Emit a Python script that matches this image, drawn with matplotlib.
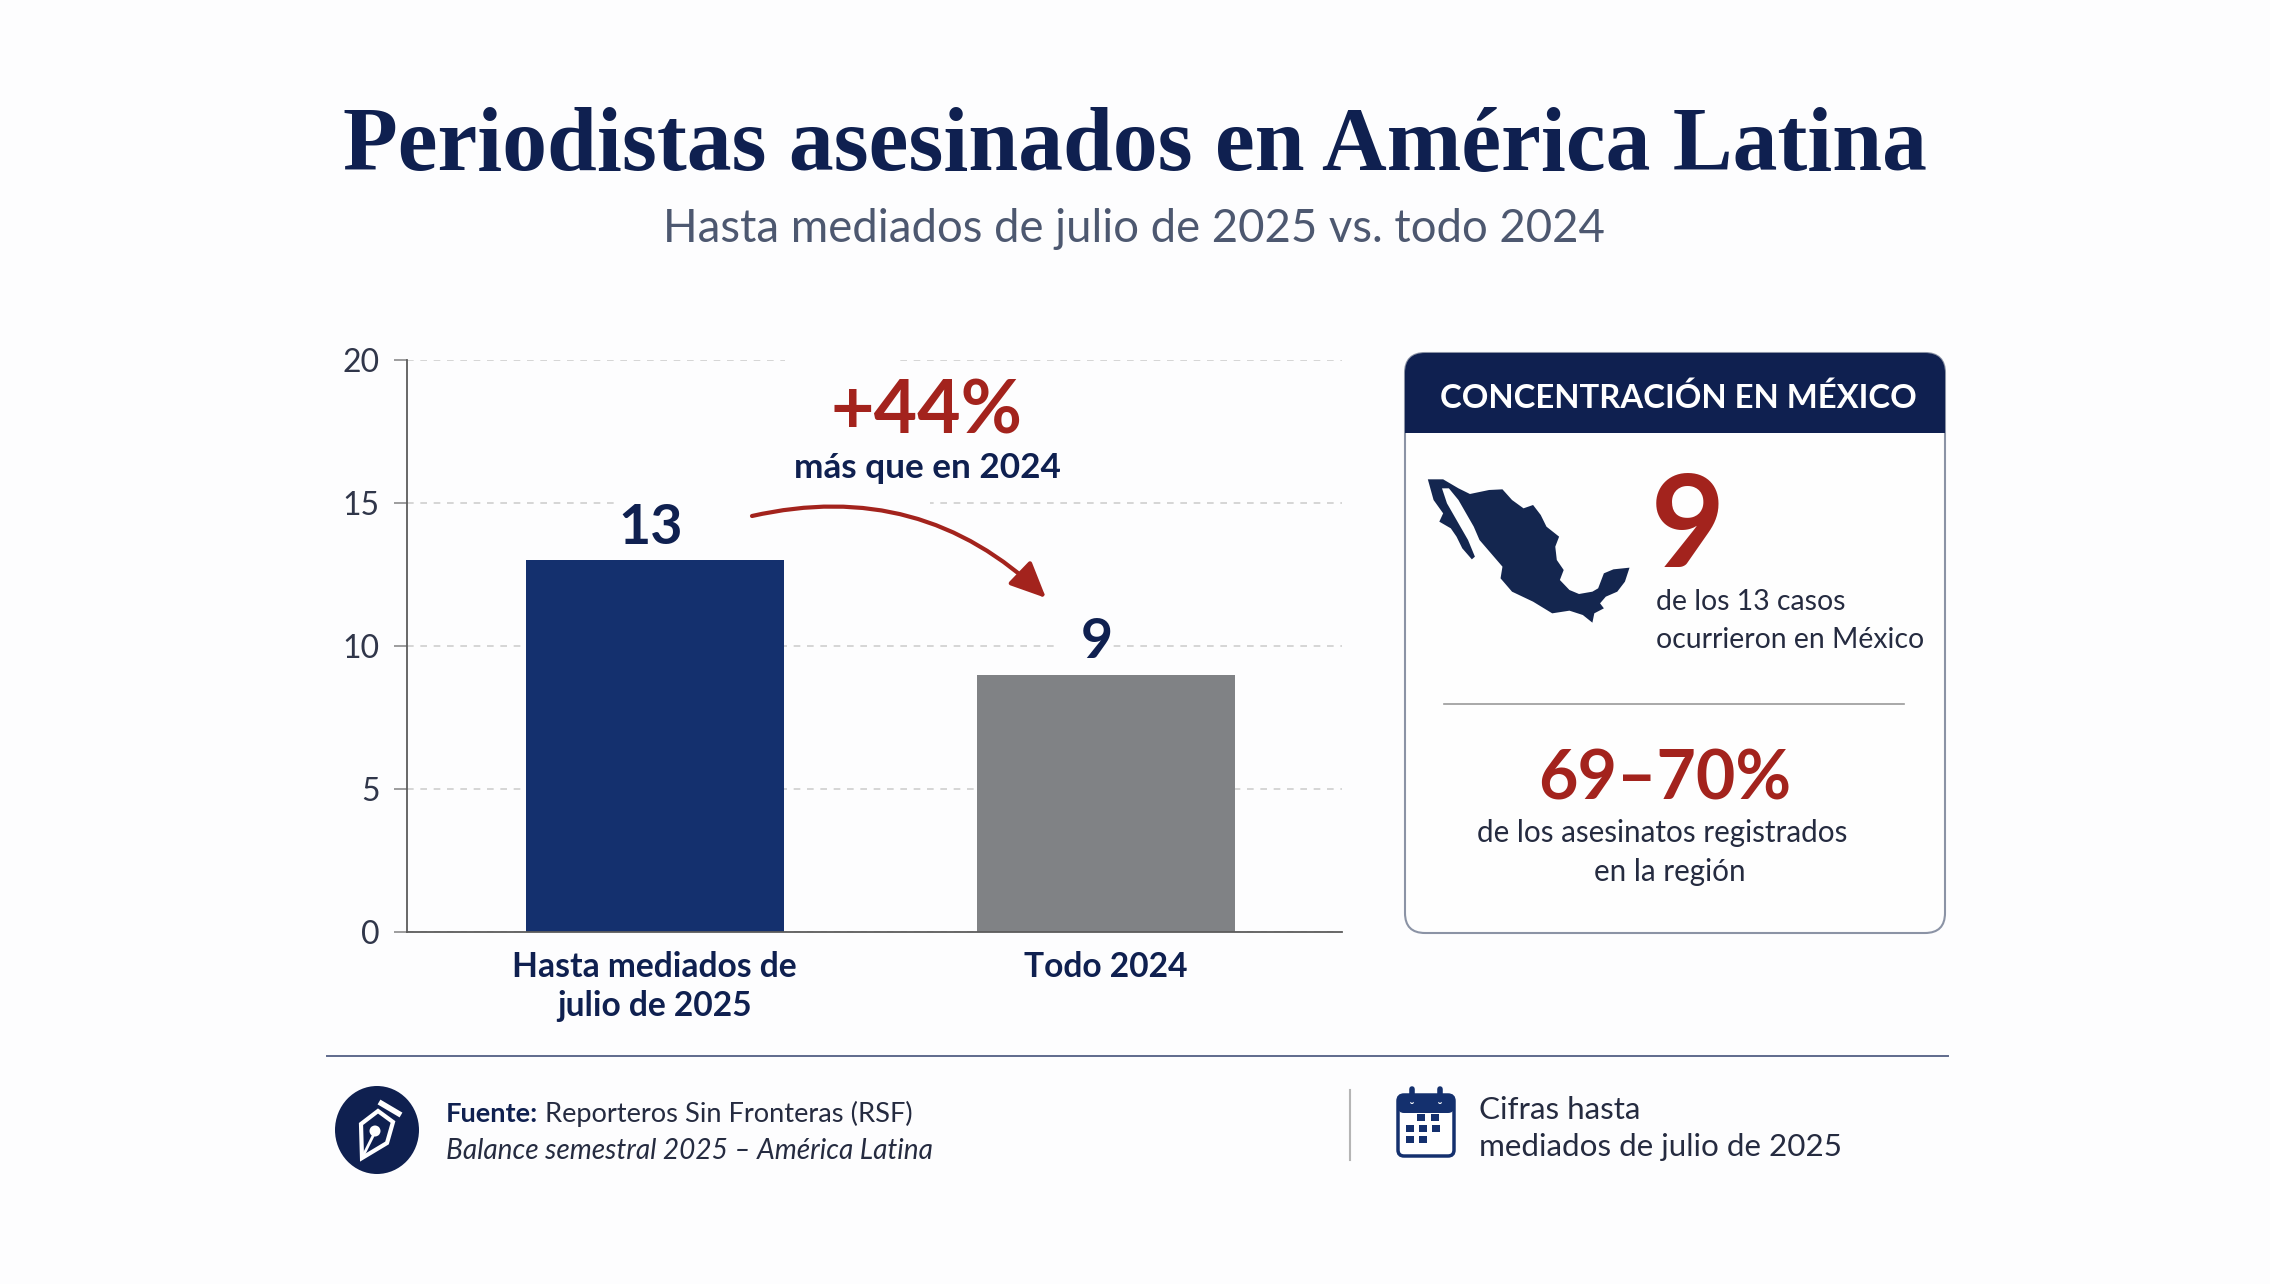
import matplotlib
matplotlib.use("Agg")
import matplotlib.pyplot as plt
from matplotlib.patches import Rectangle, FancyBboxPatch, Polygon, Ellipse, FancyArrowPatch

W, H = 2270, 1284

categorias = ["Hasta mediados de\njulio de 2025", "Todo 2024"]
valores = [13, 9]
etiquetas_valor = ["13", "9"]
ticks_y = [0, 5, 10, 15, 20]

NAVY = "#0f2050"
AZUL = "#14306e"
GRIS = "#808285"
ROJO = "#a3231d"
TEXTO = "#252b40"
SUB = "#4d5870"

fig = plt.figure(figsize=(W / 100, H / 100), dpi=100, facecolor="#fdfdfe")
plt.rcParams["font.family"] = ["Lato", "DejaVu Sans"]

# capa en pixeles para textos e iconos
pix = fig.add_axes([0, 0, 1, 1], zorder=2)
pix.set_xlim(0, W)
pix.set_ylim(H, 0)
pix.axis("off")
pix.patch.set_alpha(0)


def txt(x, y, s, size, color=TEXTO, weight="normal", ha="left", **kw):
    return pix.text(x, y, s, fontsize=size, color=color, fontweight=weight,
                    ha=ha, va="baseline", **kw)


txt(1135, 170, "Periodistas asesinados en América Latina", 64.5, NAVY, "bold", "center",
    family="Liberation Serif")
txt(1134, 242, "Hasta mediados de julio de 2025 vs. todo 2024", 32.8, SUB, "normal", "center")

# grafico de barras
x0, x1, ytop, ybot = 407, 1342, 360, 932
ax = fig.add_axes([x0 / W, 1 - ybot / H, (x1 - x0) / W, (ybot - ytop) / H], zorder=1)
ax.patch.set_alpha(0)
ax.set_xlim(-0.549, 1.524)
ax.set_ylim(0, 20)
ax.bar([0, 1], valores, width=0.572, color=[AZUL, GRIS], zorder=2)
ax.set_xticks([0, 1], categorias)
ax.set_yticks(ticks_y)
ax.tick_params(axis="x", length=0, pad=14, labelsize=24.2, labelcolor=NAVY)
ax.tick_params(axis="y", length=9.5, width=1.2, color="#8c8c8c", pad=10, labelsize=23, labelcolor="#30364a")
for lab in ax.get_xticklabels():
    lab.set_fontweight("bold")
    lab.set_linespacing(1.25)
ax.grid(axis="y", color="#cfcfcf", linestyle=(0, (4, 4)), linewidth=1.2, zorder=0.5)
ax.set_axisbelow(True)
for s in ["top", "right"]:
    ax.spines[s].set_visible(False)
ax.spines["left"].set_color("#5c5c5c")
ax.spines["bottom"].set_color("#5c5c5c")
ax.spines["left"].set_linewidth(1.3)
ax.spines["bottom"].set_linewidth(1.3)

# huecos de la cuadricula detras de las anotaciones
for rx, ry, rw, rh in [(785, 350, 110, 20), (620, 490, 310, 25), (1060, 635, 50, 25)]:
    ax.add_patch(Rectangle((rx, ry), rw, rh, transform=pix.transData, color="#fdfdfe",
                           lw=0, zorder=1, clip_on=False))

ax.annotate(etiquetas_valor[0], (0, valores[0]), xytext=(-4, 16), textcoords="offset pixels",
            ha="center", va="baseline", fontsize=40, fontweight="bold", color=NAVY)
ax.annotate(etiquetas_valor[1], (1, valores[1]), xytext=(-9, 17), textcoords="offset pixels",
            ha="center", va="baseline", fontsize=40, fontweight="bold", color=NAVY)

txt(926, 433, "+44%", 54, ROJO, "bold", "center")
txt(927, 478, "más que en 2024", 25.3, NAVY, "bold", "center")
pix.add_patch(FancyArrowPatch((752, 516), (1046, 598), connectionstyle="arc3,rad=-0.27",
                              arrowstyle="-|>,head_length=11,head_width=5", color=ROJO,
                              lw=3, shrinkA=0, shrinkB=0, mutation_scale=2))

# tarjeta de Mexico
card = FancyBboxPatch((1405 + 20, 353 + 20), 540 - 40, 580 - 40, boxstyle="round,pad=20,rounding_size=20",
                      facecolor="#fefefe", edgecolor="#8b93a5", lw=1.5)
pix.add_patch(card)
header = Rectangle((1400, 348), 550, 85, facecolor=NAVY, lw=0)
pix.add_patch(header)
header.set_clip_path(card)
txt(1678, 408, "CONCENTRACIÓN EN MÉXICO", 23.7, "white", "bold", "center")

zoom_mx = [(125, 418), (165, 418), (205, 445), (235, 462), (285, 450), (320, 448), (345, 480), (375, 505),
           (400, 495), (420, 525), (435, 560), (468, 590), (458, 620), (462, 660), (480, 690), (470, 720),
           (495, 750), (520, 762), (555, 755), (570, 745), (585, 700), (610, 688), (652, 683), (640, 725),
           (620, 755), (590, 770), (575, 790), (585, 805), (560, 820), (555, 848), (530, 825), (495, 812),
           (450, 820), (400, 785), (345, 755), (315, 715), (320, 680), (290, 640), (260, 600), (245, 560),
           (225, 520), (205, 480), (180, 445), (162, 445), (175, 490), (200, 540), (230, 600), (248, 650),
           (240, 658), (215, 625), (200, 590), (185, 565), (155, 545), (165, 520), (140, 480)]
pix.add_patch(Polygon([(1380 + a / 2.613, 340 + b / 3) for a, b in zoom_mx], closed=True,
                      facecolor="#14264f", lw=0))

txt(1651, 567, "9", 92, ROJO, "bold")
txt(1656, 610, "de los 13 casos", 20.4, TEXTO)
txt(1656, 648, "ocurrieron en México", 20.4, TEXTO)
pix.plot([1444, 1904], [704, 704], color="#9a9a9a", lw=1.2)
txt(1665, 800, "69–70%", 49, ROJO, "bold", "center")
txt(1662, 842, "de los asesinatos registrados", 21.3, TEXTO, ha="center")
txt(1670, 881, "en la región", 21.3, TEXTO, ha="center")

# pie
pix.plot([327, 1948], [1056, 1056], color="#5f6a8c", lw=1.4)
pix.add_patch(Ellipse((377, 1130), 84, 88, facecolor=NAVY, lw=0))
pix.plot([379, 401], [1102, 1115], color="white", lw=4, solid_capstyle="butt")
pix.add_patch(Polygon([(378, 1111), (393, 1122), (387, 1143), (362, 1158), (361, 1124)], closed=True,
                      facecolor=NAVY, edgecolor="white", lw=3))
pix.plot([362, 374], [1158, 1134], color="white", lw=2)
pix.add_patch(Ellipse((375, 1131), 11, 11, facecolor="white", lw=0))

t = txt(446, 1122, "Fuente:", 19.6, NAVY, "bold")
fig.canvas.draw()
bb = t.get_window_extent().transformed(pix.transData.inverted())
txt(bb.x1 + 7, 1122, "Reporteros Sin Fronteras (RSF)", 19.6, TEXTO)
txt(446, 1159, "Balance semestral 2025 – América Latina", 20.2, TEXTO, style="italic")

pix.plot([1350, 1350], [1090, 1160], color="#b5b5b5", lw=1.5)
pix.add_patch(FancyBboxPatch((1402, 1099), 48, 53, boxstyle="round,pad=4,rounding_size=6",
                             facecolor="white", edgecolor=AZUL, lw=2.5))
pix.add_patch(FancyBboxPatch((1402, 1099), 48, 10, boxstyle="round,pad=4,rounding_size=6",
                             facecolor=AZUL, lw=0))
for cx in [1412, 1440]:
    pix.plot([cx, cx], [1089, 1100], color=AZUL, lw=4, solid_capstyle="round")
    pix.add_patch(Ellipse((cx, 1102), 4, 4, facecolor="white", lw=0))
for fila, cols in [(1117, [1421, 1435]), (1128, [1410, 1423, 1436]), (1139, [1410, 1423])]:
    for cx in cols:
        pix.add_patch(Rectangle((cx - 4, fila - 3), 8, 7, facecolor=AZUL, lw=0))
txt(1479, 1119, "Cifras hasta", 22.6, TEXTO)
txt(1479, 1156, "mediados de julio de 2025", 22.6, TEXTO)

fig.savefig("out.png", dpi=100, facecolor=fig.get_facecolor())
